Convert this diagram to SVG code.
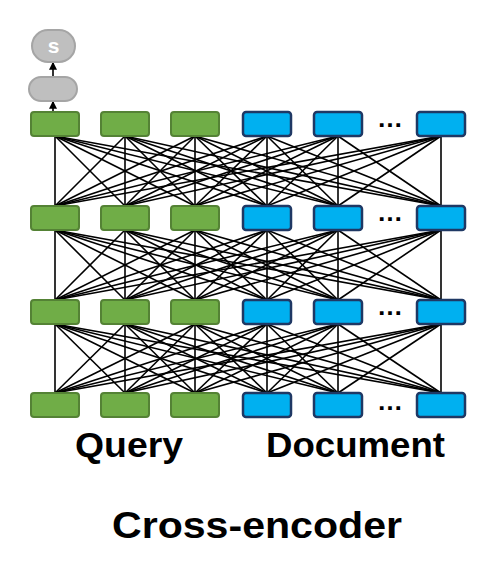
<svg xmlns="http://www.w3.org/2000/svg" width="496" height="566" viewBox="0 0 496 566">
<style>
.g{fill:#70ad47;stroke:#548235;stroke-width:2}
.b{fill:#00b0f0;stroke:#1f3864;stroke-width:2.5}
.o{fill:#bfbfbf;stroke:#a5a5a5;stroke-width:2}
.c line{stroke:#000;stroke-width:1.6}
.dots{font-family:"Liberation Sans",Arial,sans-serif;font-weight:bold;font-size:26px;fill:#000}
.lbl{font-family:"Liberation Sans",Arial,sans-serif;font-weight:bold;fill:#000}
</style>
<defs>
<marker id="ah" viewBox="0 0 6 6" refX="5" refY="3" markerWidth="5" markerHeight="5" orient="auto"><path d="M0,0L6,3L0,6z" fill="#000"/></marker>
</defs>
<rect width="496" height="566" fill="#fff"/>
<g class="c" id="connectors">
<line x1="55" y1="136" x2="55" y2="206"/><line x1="55" y1="136" x2="125" y2="206"/><line x1="55" y1="136" x2="195" y2="206"/><line x1="55" y1="136" x2="267" y2="206"/><line x1="55" y1="136" x2="338" y2="206"/><line x1="55" y1="136" x2="441" y2="206"/>
<line x1="125" y1="136" x2="55" y2="206"/><line x1="125" y1="136" x2="125" y2="206"/><line x1="125" y1="136" x2="195" y2="206"/><line x1="125" y1="136" x2="267" y2="206"/><line x1="125" y1="136" x2="338" y2="206"/><line x1="125" y1="136" x2="441" y2="206"/>
<line x1="195" y1="136" x2="55" y2="206"/><line x1="195" y1="136" x2="125" y2="206"/><line x1="195" y1="136" x2="195" y2="206"/><line x1="195" y1="136" x2="267" y2="206"/><line x1="195" y1="136" x2="338" y2="206"/><line x1="195" y1="136" x2="441" y2="206"/>
<line x1="267" y1="136" x2="55" y2="206"/><line x1="267" y1="136" x2="125" y2="206"/><line x1="267" y1="136" x2="195" y2="206"/><line x1="267" y1="136" x2="267" y2="206"/><line x1="267" y1="136" x2="338" y2="206"/><line x1="267" y1="136" x2="441" y2="206"/>
<line x1="338" y1="136" x2="55" y2="206"/><line x1="338" y1="136" x2="125" y2="206"/><line x1="338" y1="136" x2="195" y2="206"/><line x1="338" y1="136" x2="267" y2="206"/><line x1="338" y1="136" x2="338" y2="206"/><line x1="338" y1="136" x2="441" y2="206"/>
<line x1="441" y1="136" x2="55" y2="206"/><line x1="441" y1="136" x2="125" y2="206"/><line x1="441" y1="136" x2="195" y2="206"/><line x1="441" y1="136" x2="267" y2="206"/><line x1="441" y1="136" x2="338" y2="206"/><line x1="441" y1="136" x2="441" y2="206"/>
<line x1="55" y1="230" x2="55" y2="300"/><line x1="55" y1="230" x2="125" y2="300"/><line x1="55" y1="230" x2="195" y2="300"/><line x1="55" y1="230" x2="267" y2="300"/><line x1="55" y1="230" x2="338" y2="300"/><line x1="55" y1="230" x2="441" y2="300"/>
<line x1="125" y1="230" x2="55" y2="300"/><line x1="125" y1="230" x2="125" y2="300"/><line x1="125" y1="230" x2="195" y2="300"/><line x1="125" y1="230" x2="267" y2="300"/><line x1="125" y1="230" x2="338" y2="300"/><line x1="125" y1="230" x2="441" y2="300"/>
<line x1="195" y1="230" x2="55" y2="300"/><line x1="195" y1="230" x2="125" y2="300"/><line x1="195" y1="230" x2="195" y2="300"/><line x1="195" y1="230" x2="267" y2="300"/><line x1="195" y1="230" x2="338" y2="300"/><line x1="195" y1="230" x2="441" y2="300"/>
<line x1="267" y1="230" x2="55" y2="300"/><line x1="267" y1="230" x2="125" y2="300"/><line x1="267" y1="230" x2="195" y2="300"/><line x1="267" y1="230" x2="267" y2="300"/><line x1="267" y1="230" x2="338" y2="300"/><line x1="267" y1="230" x2="441" y2="300"/>
<line x1="338" y1="230" x2="55" y2="300"/><line x1="338" y1="230" x2="125" y2="300"/><line x1="338" y1="230" x2="195" y2="300"/><line x1="338" y1="230" x2="267" y2="300"/><line x1="338" y1="230" x2="338" y2="300"/><line x1="338" y1="230" x2="441" y2="300"/>
<line x1="441" y1="230" x2="55" y2="300"/><line x1="441" y1="230" x2="125" y2="300"/><line x1="441" y1="230" x2="195" y2="300"/><line x1="441" y1="230" x2="267" y2="300"/><line x1="441" y1="230" x2="338" y2="300"/><line x1="441" y1="230" x2="441" y2="300"/>
<line x1="55" y1="324" x2="55" y2="393"/><line x1="55" y1="324" x2="125" y2="393"/><line x1="55" y1="324" x2="195" y2="393"/><line x1="55" y1="324" x2="267" y2="393"/><line x1="55" y1="324" x2="338" y2="393"/><line x1="55" y1="324" x2="441" y2="393"/>
<line x1="125" y1="324" x2="55" y2="393"/><line x1="125" y1="324" x2="125" y2="393"/><line x1="125" y1="324" x2="195" y2="393"/><line x1="125" y1="324" x2="267" y2="393"/><line x1="125" y1="324" x2="338" y2="393"/><line x1="125" y1="324" x2="441" y2="393"/>
<line x1="195" y1="324" x2="55" y2="393"/><line x1="195" y1="324" x2="125" y2="393"/><line x1="195" y1="324" x2="195" y2="393"/><line x1="195" y1="324" x2="267" y2="393"/><line x1="195" y1="324" x2="338" y2="393"/><line x1="195" y1="324" x2="441" y2="393"/>
<line x1="267" y1="324" x2="55" y2="393"/><line x1="267" y1="324" x2="125" y2="393"/><line x1="267" y1="324" x2="195" y2="393"/><line x1="267" y1="324" x2="267" y2="393"/><line x1="267" y1="324" x2="338" y2="393"/><line x1="267" y1="324" x2="441" y2="393"/>
<line x1="338" y1="324" x2="55" y2="393"/><line x1="338" y1="324" x2="125" y2="393"/><line x1="338" y1="324" x2="195" y2="393"/><line x1="338" y1="324" x2="267" y2="393"/><line x1="338" y1="324" x2="338" y2="393"/><line x1="338" y1="324" x2="441" y2="393"/>
<line x1="441" y1="324" x2="55" y2="393"/><line x1="441" y1="324" x2="125" y2="393"/><line x1="441" y1="324" x2="195" y2="393"/><line x1="441" y1="324" x2="267" y2="393"/><line x1="441" y1="324" x2="338" y2="393"/><line x1="441" y1="324" x2="441" y2="393"/>
<line x1="53" y1="112" x2="53" y2="102" marker-end="url(#ah)"/>
<line x1="53" y1="77" x2="53" y2="63" marker-end="url(#ah)"/>
</g>
<g id="score"><rect class="o" x="32" y="30" width="43" height="32" rx="16"/><text x="53.5" y="53" text-anchor="middle" font-family="Liberation Sans,Arial,sans-serif" font-weight="bold" font-size="21" fill="#fff">s</text></g>
<g id="pool"><rect class="o" x="29" y="77" width="48" height="24" rx="12"/></g>
<g id="r1">
<rect id="r1q1" class="g" x="31" y="112" width="48" height="24" rx="3"/>
<rect id="r1q2" class="g" x="101" y="112" width="48" height="24" rx="3"/>
<rect id="r1q3" class="g" x="171" y="112" width="48" height="24" rx="3"/>
<rect id="r1d1" class="b" x="243" y="112" width="48" height="24" rx="3"/>
<rect id="r1d2" class="b" x="314" y="112" width="48" height="24" rx="3"/>
<rect id="r1d3" class="b" x="417" y="112" width="48" height="24" rx="3"/>
<text class="dots" x="390" y="127" text-anchor="middle">…</text>
</g>
<g id="r2">
<rect id="r2q1" class="g" x="31" y="206" width="48" height="24" rx="3"/>
<rect id="r2q2" class="g" x="101" y="206" width="48" height="24" rx="3"/>
<rect id="r2q3" class="g" x="171" y="206" width="48" height="24" rx="3"/>
<rect id="r2d1" class="b" x="243" y="206" width="48" height="24" rx="3"/>
<rect id="r2d2" class="b" x="314" y="206" width="48" height="24" rx="3"/>
<rect id="r2d3" class="b" x="417" y="206" width="48" height="24" rx="3"/>
<text class="dots" x="390" y="221" text-anchor="middle">…</text>
</g>
<g id="r3">
<rect id="r3q1" class="g" x="31" y="300" width="48" height="24" rx="3"/>
<rect id="r3q2" class="g" x="101" y="300" width="48" height="24" rx="3"/>
<rect id="r3q3" class="g" x="171" y="300" width="48" height="24" rx="3"/>
<rect id="r3d1" class="b" x="243" y="300" width="48" height="24" rx="3"/>
<rect id="r3d2" class="b" x="314" y="300" width="48" height="24" rx="3"/>
<rect id="r3d3" class="b" x="417" y="300" width="48" height="24" rx="3"/>
<text class="dots" x="390" y="315" text-anchor="middle">…</text>
</g>
<g id="r4">
<rect id="r4q1" class="g" x="31" y="393" width="48" height="24" rx="3"/>
<rect id="r4q2" class="g" x="101" y="393" width="48" height="24" rx="3"/>
<rect id="r4q3" class="g" x="171" y="393" width="48" height="24" rx="3"/>
<rect id="r4d1" class="b" x="243" y="393" width="48" height="24" rx="3"/>
<rect id="r4d2" class="b" x="314" y="393" width="48" height="24" rx="3"/>
<rect id="r4d3" class="b" x="417" y="393" width="48" height="24" rx="3"/>
<text class="dots" x="390" y="410" text-anchor="middle">…</text>
</g>
<g id="labels">
<text class="lbl" x="75" y="457" font-size="35" textLength="108" lengthAdjust="spacingAndGlyphs">Query</text>
<text class="lbl" x="266" y="457" font-size="35" textLength="179" lengthAdjust="spacingAndGlyphs">Document</text>
<text class="lbl" x="112" y="538" font-size="36" textLength="290" lengthAdjust="spacingAndGlyphs">Cross-encoder</text>
</g>
</svg>
